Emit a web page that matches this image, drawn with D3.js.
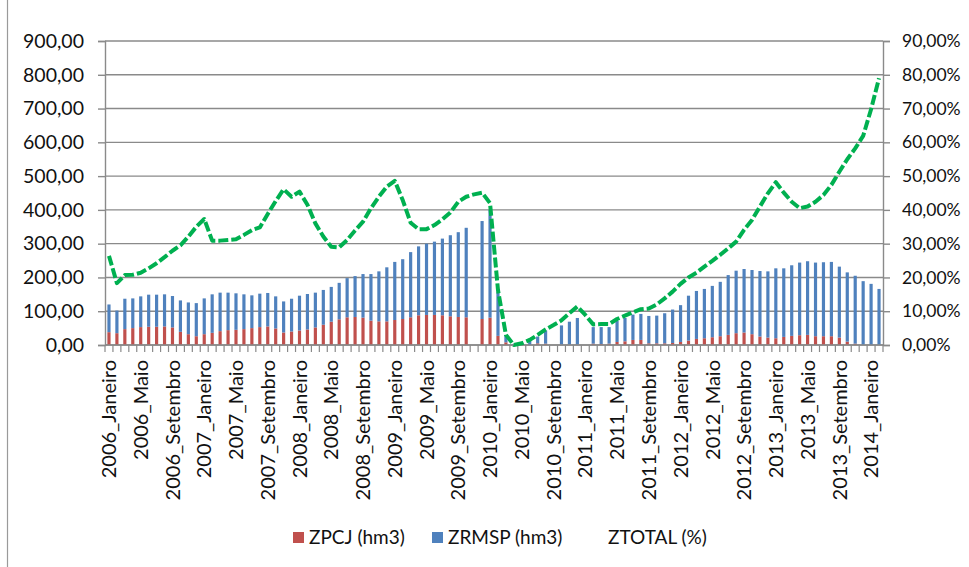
<!DOCTYPE html>
<html><head><meta charset="utf-8">
<script src="https://cdn.jsdelivr.net/npm/d3@7/dist/d3.min.js"></script>
<style>
html,body{margin:0;padding:0;background:#fff;}
svg{display:block;}
text{font-family:Lato,"Liberation Sans",sans-serif;fill:#111;}
</style></head>
<body>
<svg id="chart" width="969" height="567"></svg>
<script>
// ---- data ----
const years = ["2006","2007","2008","2009","2010","2011","2012","2013","2014"];
const months = ["Janeiro","Fevereiro","Março","Abril","Maio","Junho","Julho","Agosto","Setembro","Outubro","Novembro","Dezembro"];
const categories = [];
years.forEach(yr => months.forEach(m => categories.push(yr + "_" + m)));
categories.splice(98); // 2006_Janeiro .. 2014_Fevereiro

const tickLabels = ["2006_Janeiro","2006_Maio","2006_Setembro","2007_Janeiro","2007_Maio","2007_Setembro",
  "2008_Janeiro","2008_Maio","2008_Setembro","2009_Janeiro","2009_Maio","2009_Setembro",
  "2010_Janeiro","2010_Maio","2010_Setembro","2011_Janeiro","2011_Maio","2011_Setembro",
  "2012_Janeiro","2012_Maio","2012_Setembro","2013_Janeiro","2013_Maio","2013_Setembro","2014_Janeiro"];

const zpcj = [38,35,47,50,53,54,54,55,52,39,32,26,
  32,36,41,44,45,47,50,53,55,49,37,40,
  43,46,52,60,69,76,82,83,81,72,70,70,
  74,77,82,88,89,89,88,85,83,82,null,77,
  81,27,8,0,0,0,5,4,null,1,1,1,
  null,4,3,4,9,11,15,15,5,5,5,6,
  9,13,18,20,23,26,30,35,37,32,25,22,
  20,24,27,29,30,26,26,26,22,10,4,0,
  0,0];

const zrmsp = [82,67,90,88,91,95,95,95,93,93,94,98,
  106,114,114,111,108,103,97,99,99,95,92,97,
  103,105,103,103,103,108,116,121,129,138,148,160,
  172,177,193,204,211,217,227,240,251,265,null,290,
  319,131,19,3,5,12,20,39,null,57,68,79,
  null,49,50,49,63,69,75,77,81,82,89,99,
  109,133,142,146,152,161,177,185,188,190,194,196,
  207,203,209,215,218,218,219,220,210,205,201,189,
  181,166];

const ztotal = [26.4,18.3,20.7,20.8,21.4,22.7,24.2,26.0,27.9,29.5,32.1,35.0,
  37.3,30.9,30.9,31.1,31.3,32.6,34.0,34.8,38.8,42.6,46.1,43.9,
  45.4,41.5,36.0,32.1,29.1,28.9,31.1,33.9,36.5,40.5,43.9,46.9,
  48.6,42.9,36.2,34.3,34.3,35.5,37.2,39.2,42.4,43.9,44.6,45.1,
  42.0,16.3,3.0,0.0,0.5,1.5,3.0,4.6,5.9,7.3,9.4,11.4,
  8.9,6.1,6.2,6.2,7.7,8.7,9.7,10.6,10.8,12.0,13.8,15.8,
  18.1,20.0,21.4,23.2,24.9,26.7,28.6,30.6,34.1,37.0,41.0,44.9,
  48.2,45.1,42.4,40.5,41.0,42.4,44.4,47.4,51.3,55.0,58.2,61.9,
  69.8,79.0];

const leftTicks = [0,100,200,300,400,500,600,700,800,900];
const rightTicks = [0,10,20,30,40,50,60,70,80,90];

const seriesNames = ["ZPCJ (hm3)","ZRMSP (hm3)","ZTOTAL (%)"];
const colors = {red:"#C0504D", blue:"#4F81BD", green:"#00B050", grid:"#8a8a8a"};

// ---- layout ----
const L = 105, R = 883, T = 41, B = 345;
const svg = d3.select("#chart");

const x = d3.scaleBand().domain(categories).range([L, R]).paddingInner(0.6).paddingOuter(0.3);
const xb = d3.scaleBand().domain(categories).range([L, R]).padding(0);
const y = d3.scaleLinear().domain([0, 900]).range([B, T]);
const y2 = d3.scaleLinear().domain([0, 90]).range([B, T]);

// chart border (left)
svg.append("line").attr("x1",7.5).attr("x2",7.5).attr("y1",0).attr("y2",567)
  .attr("stroke","#9a9a9a").attr("stroke-width",1.2);

// gridlines
svg.append("g").selectAll("line").data(leftTicks).join("line")
  .attr("x1", L).attr("x2", R)
  .attr("y1", d => y(d)).attr("y2", d => y(d))
  .attr("stroke", colors.grid).attr("stroke-width", 1.4);

// bars (stacked)
const table = categories.map((c, i) => ({cat: c, zpcj: zpcj[i] || 0, zrmsp: zrmsp[i] || 0}));
const stack = d3.stack().keys(["zpcj","zrmsp"])(table);
const barColors = [colors.red, colors.blue];
svg.append("g").selectAll("g").data(stack).join("g")
  .attr("fill", (d, k) => barColors[k])
  .selectAll("rect").data(d => d).join("rect")
  .attr("x", d => x(d.data.cat))
  .attr("width", x.bandwidth())
  .attr("y", d => y(d[1]))
  .attr("height", d => y(d[0]) - y(d[1]));

// axes
const fmtL = d => d3.format(".2f")(d).replace(".", ",");
const fmtR = d => d3.format(".2f")(d).replace(".", ",") + "%";

const gL = svg.append("g").attr("transform", `translate(${L},0)`)
  .call(d3.axisLeft(y).tickValues(leftTicks).tickFormat(fmtL).tickSize(7).tickPadding(14));
const gR = svg.append("g").attr("transform", `translate(${R},0)`)
  .call(d3.axisRight(y2).tickValues(rightTicks).tickFormat(fmtR).tickSize(7).tickPadding(12));
[gL, gR].forEach(g => {
  g.select(".domain").attr("stroke", colors.grid).attr("stroke-width", 1.4);
  g.selectAll(".tick line").attr("stroke", colors.grid).attr("stroke-width", 1.4);
  g.selectAll(".tick text").attr("font-family", "Lato").attr("fill", "#111");
});
gL.selectAll(".tick text").attr("font-size", 19.5);
gR.selectAll(".tick text").attr("font-size", 17.5);

// x axis: baseline + ticks at category boundaries
svg.append("line").attr("x1", L).attr("x2", R).attr("y1", B).attr("y2", B)
  .attr("stroke", colors.grid).attr("stroke-width", 1.4);
const bounds = categories.map(c => xb(c)).concat([xb(categories[categories.length - 1]) + xb.step()]);
svg.append("g").selectAll("line").data(bounds).join("line")
  .attr("x1", d => d).attr("x2", d => d).attr("y1", B).attr("y2", B + 7)
  .attr("stroke", colors.grid).attr("stroke-width", 1.2);

// x labels
svg.append("g").selectAll("text").data(tickLabels).join("text")
  .attr("transform", d => `translate(${x(d) + x.bandwidth() / 2},${B + 15}) rotate(-90)`)
  .attr("text-anchor", "end")
  .attr("dy", "0.36em")
  .attr("font-size", 20)
  .text(d => d);

// line
const line = d3.line()
  .x((d, i) => x(categories[i]) + x.bandwidth() / 2)
  .y(d => y2(d));
svg.append("path").datum(ztotal)
  .attr("d", line)
  .attr("fill", "none")
  .attr("stroke", colors.green)
  .attr("stroke-width", 4)
  .attr("stroke-dasharray", "10,3")
  .attr("stroke-linejoin", "round");

// legend
const legend = svg.append("g");
const legItems = [
  {name: seriesNames[0], color: colors.red, x: 293},
  {name: seriesNames[1], color: colors.blue, x: 432},
  {name: seriesNames[2], color: null, x: 592}
];
legItems.forEach(it => {
  if (it.color) legend.append("rect").attr("x", it.x).attr("y", 532).attr("width", 11).attr("height", 11).attr("fill", it.color);
  legend.append("text").attr("x", it.x + 16).attr("y", 544).attr("font-size", 19).text(it.name);
});
</script>
</body></html>
